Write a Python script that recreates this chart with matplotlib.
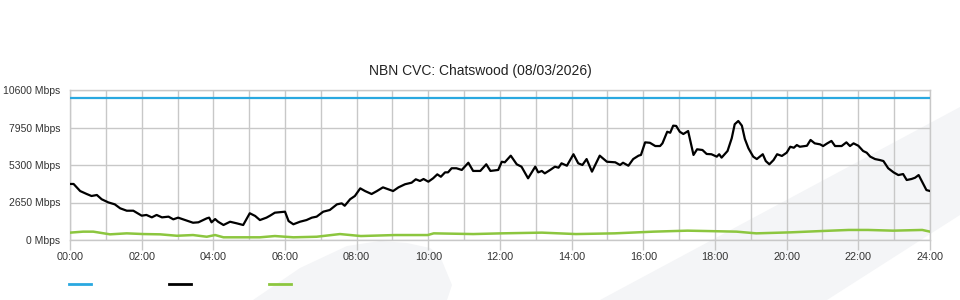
import matplotlib
matplotlib.use("Agg")
import matplotlib.pyplot as plt
from matplotlib.patches import Polygon
from matplotlib.lines import Line2D

plt.rcParams['font.family'] = ['Liberation Sans', 'DejaVu Sans']

# port capacity (blue)
capacity_times = ["00:00", "24:00"]
capacity_mbps = [10000, 10000]

# download traffic (black)
traffic_times = [
    "00:00", "00:06", "00:17", "00:28", "00:36", "00:45", "00:53", "01:04", "01:15", "01:24", "01:35", "01:46",
    "02:00", "02:08", "02:17", "02:25", "02:34", "02:45", "02:53", "03:01", "03:13", "03:26", "03:35", "03:49", "03:53", "03:57",
    "04:03", "04:08", "04:17", "04:28", "04:39", "04:50", "05:01", "05:10", "05:18", "05:29", "05:35", "05:43",
    "06:00", "06:06", "06:14", "06:25", "06:36", "06:45", "06:53", "07:04", "07:15", "07:27", "07:35", "07:40", "07:49", "07:57",
    "08:06", "08:14", "08:25", "08:34", "08:44", "08:53", "09:01", "09:10", "09:21", "09:32", "09:39", "09:46", "09:52",
    "10:00", "10:08", "10:15", "10:21", "10:28", "10:33", "10:39", "10:47", "10:56", "11:07", "11:15", "11:27", "11:37", "11:44", "11:57",
    "12:03", "12:08", "12:18", "12:28", "12:36", "12:47", "12:59", "13:04", "13:10", "13:15", "13:24", "13:32", "13:38", "13:43", "13:52",
    "14:03", "14:11", "14:18", "14:25", "14:34", "14:47", "14:59", "15:13", "15:21", "15:26", "15:35", "15:43", "15:52", "15:56",
    "16:03", "16:11", "16:20", "16:28", "16:32", "16:40", "16:45", "16:50", "16:55", "17:01", "17:07", "17:15", "17:24", "17:30",
    "17:39", "17:46", "17:54",
    "18:03", "18:07", "18:11", "18:21", "18:28", "18:33", "18:39", "18:45", "18:50", "18:56", "19:04", "19:10", "19:15", "19:20",
    "19:25", "19:31", "19:38", "19:44", "19:52",
    "20:00", "20:06", "20:12", "20:17", "20:22", "20:34", "20:40", "20:47", "20:56", "21:01", "21:08", "21:15", "21:21", "21:32",
    "21:40", "21:46", "21:52",
    "22:00", "22:08", "22:14", "22:20", "22:28", "22:36", "22:42", "22:50", "22:59", "23:07", "23:15", "23:21", "23:29", "23:35",
    "23:41", "23:48", "23:54", "24:00",
]
traffic_mbps = [
    3960, 3960, 3460, 3250, 3110, 3180, 2880, 2660, 2520, 2240, 2070, 2070,
    1720, 1770, 1600, 1770, 1600, 1650, 1460, 1580, 1410, 1220, 1250, 1530, 1580, 1250,
    1480, 1290, 1060, 1290, 1180, 1060, 1890, 1700, 1410, 1580, 1720, 1930,
    2000, 1340, 1110, 1290, 1410, 1580, 1650, 2000, 2120, 2520, 2590, 2420, 2880, 3110,
    3650, 3460, 3250, 3460, 3720, 3580, 3460, 3720, 3940, 4050, 4290, 4170, 4310,
    4120, 4360, 4640, 4470, 4780, 4780, 5070, 5070, 4950, 5460, 4880, 4880, 5350, 4880, 4950,
    5530, 5490, 5960, 5350, 5180, 4360, 5180, 4780, 4880, 4710, 4950, 5180, 5110, 5420, 5250,
    6060, 5420, 5300, 5720, 4830, 5960, 5530, 5490, 5300, 5460, 5250, 5720, 5960, 6010,
    6900, 6870, 6640, 6640, 6830, 7650, 7580, 8080, 8060, 7650, 7490, 7700, 6010, 6410,
    6360, 6080, 6060,
    5890, 6060, 5820, 6290, 7190, 8180, 8410, 8080, 7140, 6480, 5890, 5720, 5890, 6060,
    5580, 5350, 5650, 6060, 5940,
    6170, 6590, 6520, 6710, 6590, 6660, 7070, 6830, 6760, 6640, 6830, 7000, 6640, 6640,
    6900, 6640, 6830,
    6660, 6290, 6170, 5890, 5720, 5650, 5580, 5070, 4780, 4590, 4660, 4240, 4310, 4400,
    4590, 4010, 3530, 3460,
]

# upload traffic (green)
upload_times = [
    "00:00", "00:22", "00:39", "01:07", "01:35", "02:03", "02:31", "02:59", "03:26", "03:49", "04:03", "04:17",
    "05:18", "05:43", "06:14", "06:53", "07:32", "08:07", "09:04", "09:59", "10:09", "11:15", "12:03", "13:10",
    "14:07", "15:12", "16:17", "17:14", "18:36", "19:09", "20:06", "21:02", "21:44", "22:16", "22:58", "23:47", "24:00",
]
upload_mbps = [
    520, 590, 590, 400, 470, 420, 400, 300, 350, 230, 350, 190,
    190, 280, 190, 230, 420, 280, 350, 350, 470, 420, 470, 520,
    420, 470, 590, 660, 590, 470, 540, 640, 710, 710, 660, 710, 590,
]

y_ticks = [0, 2650, 5300, 7950, 10600]
x_ticks = list(range(0, 25, 2))

title = "NBN CVC: Chatswood (08/03/2026)"
series_colors = ["#29a8e0", "#000000", "#8cc63f"]


def to_hours(stamps):
    return [int(s[:2]) + int(s[3:]) / 60 for s in stamps]


W, H = 960, 300
fig = plt.figure(figsize=(W / 100, H / 100), dpi=100)

# faint background shapes (pixel coords from top-left)
shapes = [
    [(253, 300), (300, 268), (347, 246), (380, 241), (407, 243), (430, 248), (440, 256), (452, 285), (447, 300)],
    [(600, 300), (960, 107), (960, 215), (827, 300)],
]
for pts in shapes:
    fig.patches.append(Polygon([(x / W, 1 - y / H) for x, y in pts], closed=True,
                               transform=fig.transFigure, facecolor="#f4f5f7",
                               edgecolor="none", zorder=-1))

ax = fig.add_axes([70 / W, 60 / H, 860 / W, 150 / H])
ax.set_zorder(1)
ax.set_facecolor("none")

ax.plot(to_hours(capacity_times), capacity_mbps, color=series_colors[0], lw=1.6, zorder=3)
ax.plot(to_hours(traffic_times), traffic_mbps, color=series_colors[1], lw=1.6, zorder=4)
ax.plot(to_hours(upload_times), upload_mbps, color=series_colors[2], lw=1.8, zorder=3)

ax.set_xlim(0, 24)
ax.set_ylim(0, 10600)
ax.set_xticks(x_ticks)
ax.set_xticklabels([f"{h:02d}:00" for h in x_ticks])
ax.set_xticks(range(25), minor=True)
ax.set_yticks(y_ticks)
ax.set_yticklabels([f"{v} Mbps" for v in y_ticks])

ax.grid(True, which="both", axis="x", color="#c8c8c8", lw=1)
ax.grid(True, which="major", axis="y", color="#c8c8c8", lw=1)
ax.set_axisbelow(True)
for sp in ax.spines.values():
    sp.set_color("#c8c8c8")
    sp.set_linewidth(1)

ax.tick_params(axis="x", which="major", length=7, width=1, color="#c8c8c8",
               pad=1.5, labelsize=7.8, labelcolor="#333333")
ax.tick_params(axis="x", which="minor", length=0)
ax.tick_params(axis="y", length=0, pad=7, labelsize=7.5, labelcolor="#333333")

fig.text(0.5, 1 - 75 / H, title, ha="center", va="baseline", fontsize=10, color="#222222")

handles = [Line2D([], [], color=c, lw=2) for c in series_colors]
fig.legend(handles, ["", "", ""], ncol=3, loc="center left",
           bbox_to_anchor=(69 / W, 1 - 285 / H), frameon=False, fontsize=8,
           handlelength=2.0, handletextpad=0, columnspacing=7.0,
           borderpad=0, borderaxespad=0)

fig.savefig("out.png", dpi=100)
